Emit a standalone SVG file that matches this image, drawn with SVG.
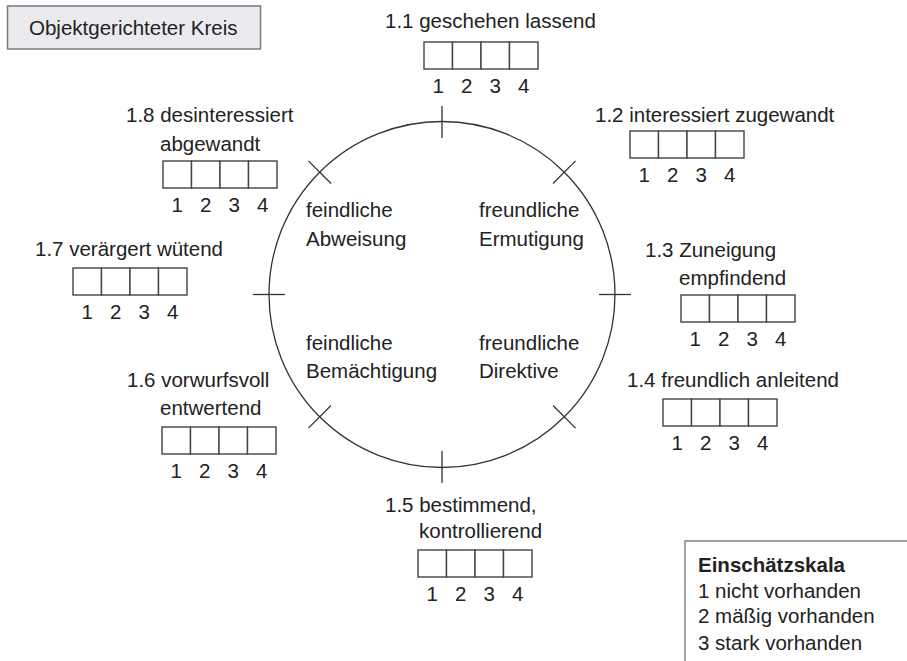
<svg xmlns="http://www.w3.org/2000/svg" width="907" height="661" viewBox="0 0 907 661">
<style>
text{font-family:"Liberation Sans",Arial,sans-serif;font-size:20.5px;fill:#222}
.b{font-weight:bold}
.d{text-anchor:middle}
.cell{fill:#fff;stroke:#444;stroke-width:1.4}
.ln{stroke:#333;stroke-width:1.3;fill:none}
</style>
<defs>
<g id="scale">
<rect class="cell" x="0" y="0" width="28.5" height="27"/>
<rect class="cell" x="28.5" y="0" width="28.5" height="27"/>
<rect class="cell" x="57" y="0" width="28.5" height="27"/>
<rect class="cell" x="85.5" y="0" width="28.5" height="27"/>
<text class="d" x="14.25" y="51">1</text>
<text class="d" x="42.75" y="51">2</text>
<text class="d" x="71.25" y="51">3</text>
<text class="d" x="99.75" y="51">4</text>
</g>
</defs>
<rect width="907" height="661" fill="#fff"/>
<g id="title">
<rect x="7.5" y="6" width="253" height="43" fill="#ebebef" stroke="#7a7a7a" stroke-width="1.5"/>
<text x="29" y="35">Objektgerichteter Kreis</text>
</g>
<g id="connectors">
<circle class="ln" cx="442" cy="294.5" r="173"/>
<line class="ln" x1="442" y1="106" x2="442" y2="138"/>
<line class="ln" x1="442" y1="451" x2="442" y2="483"/>
<line class="ln" x1="253" y1="294.5" x2="285" y2="294.5"/>
<line class="ln" x1="599" y1="294.5" x2="631" y2="294.5"/>
<line class="ln" x1="308.4" y1="160.9" x2="331" y2="183.5"/>
<line class="ln" x1="575.6" y1="160.9" x2="553" y2="183.5"/>
<line class="ln" x1="308.4" y1="428.1" x2="331" y2="405.5"/>
<line class="ln" x1="575.6" y1="428.1" x2="553" y2="405.5"/>
</g>
<g id="q-tl"><text x="306" y="217">feindliche</text><text x="306" y="246">Abweisung</text></g>
<g id="q-tr"><text x="479" y="217">freundliche</text><text x="479" y="246">Ermutigung</text></g>
<g id="q-bl"><text x="306" y="350">feindliche</text><text x="306" y="378">Bemächtigung</text></g>
<g id="q-br"><text x="479" y="350">freundliche</text><text x="479" y="378">Direktive</text></g>
<g id="n11"><text x="385" y="28">1.1 geschehen lassend</text><use href="#scale" x="424" y="42"/></g>
<g id="n12"><text x="595" y="122">1.2 interessiert zugewandt</text><use href="#scale" x="630" y="131"/></g>
<g id="n13"><text x="645" y="257">1.3 Zuneigung</text><text x="679" y="285">empfindend</text><use href="#scale" x="681" y="295"/></g>
<g id="n14"><text x="627" y="387">1.4 freundlich anleitend</text><use href="#scale" x="663" y="399"/></g>
<g id="n15"><text x="385" y="512">1.5 bestimmend,</text><text x="419" y="538">kontrollierend</text><use href="#scale" x="418" y="550"/></g>
<g id="n16"><text x="127" y="387">1.6 vorwurfsvoll</text><text x="160" y="415">entwertend</text><use href="#scale" x="162" y="427"/></g>
<g id="n17"><text x="35" y="256">1.7 verärgert wütend</text><use href="#scale" x="73" y="268"/></g>
<g id="n18"><text x="126" y="122">1.8 desinteressiert</text><text x="160" y="151">abgewandt</text><use href="#scale" x="163" y="161"/></g>
<g id="legend">
<rect x="685" y="541" width="240" height="140" fill="#fff" stroke="#8a8a8a" stroke-width="1.6"/>
<text class="b" x="698" y="572">Einschätzskala</text>
<text x="698" y="598">1 nicht vorhanden</text>
<text x="698" y="623">2 mäßig vorhanden</text>
<text x="698" y="650">3 stark vorhanden</text>
</g>
</svg>
